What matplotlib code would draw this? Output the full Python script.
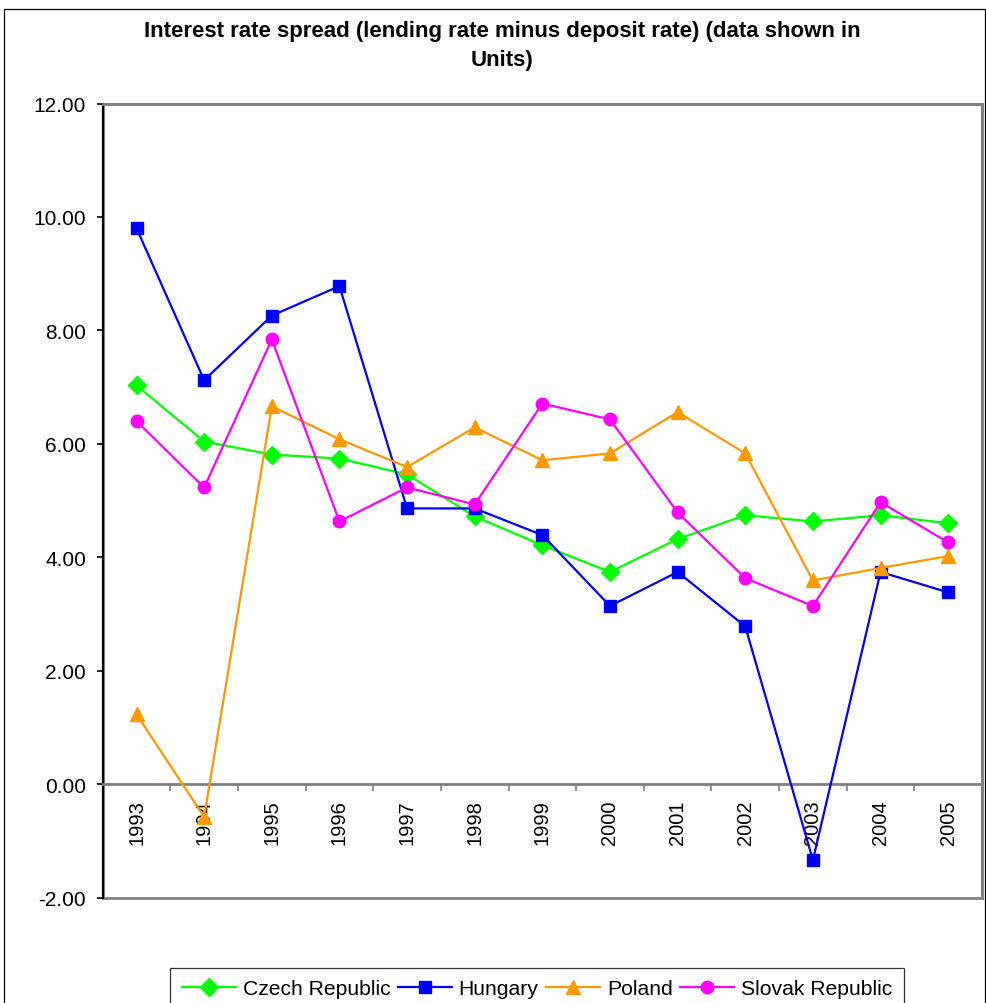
import matplotlib
matplotlib.use("Agg")
import matplotlib.pyplot as plt
from matplotlib.patches import Rectangle
from matplotlib.ticker import FixedLocator, FuncFormatter

years = ["1993", "1994", "1995", "1996", "1997", "1998", "1999",
         "2000", "2001", "2002", "2003", "2004", "2005"]
czech = [7.03, 6.04, 5.81, 5.74, 5.46, 4.72, 4.21, 3.74, 4.32, 4.74, 4.63, 4.74, 4.60]
hungary = [9.80, 7.12, 8.26, 8.78, 4.86, 4.86, 4.39, 3.14, 3.74, 2.78, -1.34, 3.74, 3.38]
poland = [1.23, -0.58, 6.66, 6.08, 5.59, 6.29, 5.71, 5.83, 6.56, 5.83, 3.59, 3.81, 4.02]
slovak = [6.40, 5.23, 7.84, 4.63, 5.23, 4.93, 6.71, 6.43, 4.79, 3.63, 3.14, 4.97, 4.26]

series = [
    ("Czech Republic", czech, "#00FF00", "D", 9),
    ("Hungary", hungary, "#0000FF", "s", 8.5),
    ("Poland", poland, "#FF9900", "^", 10.5),
    ("Slovak Republic", slovak, "#FF00FF", "o", 9),
]

plt.rcParams["font.family"] = ["Liberation Sans", "DejaVu Sans"]

W, H = 987, 1004
fig = plt.figure(figsize=(W / 100, H / 100), dpi=100)

# outer chart frame
fig.patches.append(Rectangle((4 / W, -0.05), 981 / W, 1 - 10 / H + 0.05,
                             transform=fig.transFigure, fill=False,
                             edgecolor="#000000", linewidth=0.9))

left, right, top, bottom = 102.7, 982, 104.5, 898.5
ax = fig.add_axes([left / W, 1 - bottom / H, (right - left) / W, (bottom - top) / H])

x = [i + 0.5 for i in range(len(years))]
for name, vals, color, marker, ms in series:
    ax.plot(x, vals, color=color, marker=marker, markersize=ms, linewidth=1.6,
            markeredgecolor=color, label=name, clip_on=False, zorder=3)

ax.set_xlim(0, len(years))
ax.set_ylim(-2, 12)

# frame of the plot area
for s in ("top", "right"):
    ax.spines[s].set_color("#808080")
    ax.spines[s].set_linewidth(2)
ax.spines["left"].set_color("#000000")
ax.spines["left"].set_linewidth(1.6)
ax.spines["bottom"].set_position(("data", 0))
ax.spines["bottom"].set_color("#808080")
ax.spines["bottom"].set_linewidth(2)
ax.add_patch(Rectangle((0, 0), 1, 1, transform=ax.transAxes, fill=False,
                       edgecolor="#808080", linewidth=2, zorder=1, clip_on=False))

ax.set_yticks([-2, 0, 2, 4, 6, 8, 10, 12])
ax.yaxis.set_major_formatter(FuncFormatter(lambda v, p: f"{v:.2f}"))
ax.tick_params(axis="y", direction="out", length=4, width=1.2, pad=8,
               labelsize=15, colors="#000000")

ax.xaxis.set_major_locator(FixedLocator(list(range(len(years) + 1))))
ax.xaxis.set_minor_locator(FixedLocator(x))
ax.set_xticklabels([], minor=False)
ax.set_xticklabels(years, minor=True, rotation=90)
ax.tick_params(axis="x", which="major", direction="out", length=5, width=1.2,
               color="#808080")
ax.tick_params(axis="x", which="minor", length=0, pad=11, labelsize=14.5)
for lbl in ax.get_xticklabels(minor=True):
    lbl.set_verticalalignment("top")

fig.text(502 / W, 1 - 31 / H,
         "Interest rate spread (lending rate minus deposit rate) (data shown in",
         ha="center", va="center", fontsize=16, fontweight="bold")
fig.text(502 / W, 1 - 61 / H, "Units)",
         ha="center", va="center", fontsize=16, fontweight="bold")

leg = fig.legend(loc="upper left", bbox_to_anchor=(170.5 / W, 1 - 968.5 / H),
                 ncol=4, fontsize=15.2, frameon=True, fancybox=False,
                 edgecolor="#000000", handlelength=2.55, handletextpad=0.33,
                 columnspacing=0.35, borderpad=0.55, borderaxespad=0)
leg.get_frame().set_linewidth(0.9)

fig.savefig("out.png", dpi=100)
